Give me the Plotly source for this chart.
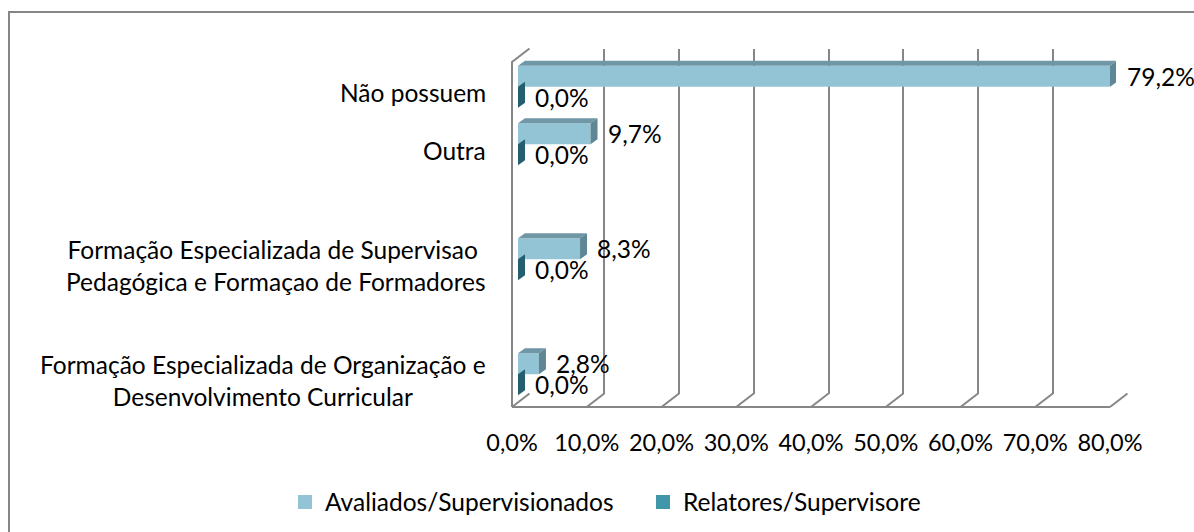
import plotly.graph_objects as go

# ---------------- data ----------------
categories = [
    "Formação Especializada de Organização e\nDesenvolvimento Curricular",
    "",
    "Formação Especializada de Supervisao \nPedagógica e Formaçao de Formadores",
    "",
    "Outra",
    "Não possuem",
]
avaliados = [2.8, None, 8.3, None, 9.7, 79.2]
relatores = [0.0, None, 0.0, None, 0.0, 0.0]
series_names = ["Avaliados/Supervisionados", "Relatores/Supervisore"]
x_ticks = [0, 10, 20, 30, 40, 50, 60, 70, 80]
x_tick_labels = ["0,0%", "10,0%", "20,0%", "30,0%", "40,0%", "50,0%", "60,0%", "70,0%", "80,0%"]

# ---------------- style / geometry ----------------
W, H = 1194, 532
FONT = "Lato, 'Open Sans', sans-serif"
FS = 24.5
TICK_FS = 23.5
GRID = "#868686"
FRONT_COL = ["#93C4D5", "#3F96A9"]
TOP_COL = ["#6F97A6", "#2F6F80"]
END_COL = ["#5E8694", "#255E6E"]
LEGEND_COL = ["#93C4D6", "#4097AA"]

FX0, FX1, FY0, FY1 = 512, 1110, 62, 407   # front plane of the 3D box (px)
WALL_DX, WALL_DY = 17.5, 13.5              # depth of the box (px)
BAR_DX, BAR_DY = 6, 4                      # where the bars' front face sits
BD_DX, BD_DY = 7, 5                        # depth of each bar (px)
BAR_PX = 21                                # thickness of each bar (px)
XMAX = x_ticks[-1]
N = len(categories)

def fx(px):
    return px / W

def fy(py):
    return 1 - py / H

ux = XMAX / (FX1 - FX0)   # value units per px
uy = N / (FY1 - FY0)      # slot units per px
hw = BAR_PX / 2 * uy

fig = go.Figure()

# ---------------- 3D box decorations (floor + left wall) ----------------
dxu, dyu = WALL_DX * ux, WALL_DY * uy
ybot, ytop = -0.5, N - 0.5
lx, ly = [0, XMAX, None], [ybot, ybot, None]
for t in x_ticks:
    lx += [t, t + dxu, None]
    ly += [ybot, ybot + dyu, None]
lx += [0, 0, dxu, None]
ly += [ybot, ytop, ytop + dyu, None]
fig.add_trace(go.Scatter(x=lx, y=ly, mode="lines", line=dict(color=GRID, width=2),
                         xaxis="x3", yaxis="y3", showlegend=False, hoverinfo="skip"))
# invisible trace so the back-wall subplot (with its gridlines) exists
fig.add_trace(go.Scatter(x=[0], y=[0], mode="markers", marker=dict(opacity=0),
                         xaxis="x2", yaxis="y2", showlegend=False, hoverinfo="skip"))

# ---------------- bars ----------------
def centers_for(sign):
    return [j + sign * hw for j in range(N)]

series = [avaliados, relatores]
signs = [1, -1]
bdx, bdy = BD_DX * ux, BD_DY * uy
annotations = []
for k, (vals, name) in enumerate(zip(series, series_names)):
    cs = centers_for(signs[k])
    xs = [v for v in vals if v is not None]
    ys = [c for v, c in zip(vals, cs) if v is not None]
    fig.add_trace(go.Bar(x=xs, y=ys, orientation="h", width=2 * hw, name=name,
                         marker=dict(color=FRONT_COL[k], line=dict(width=0)),
                         xaxis="x4", yaxis="y4", showlegend=False))
    tx, ty, ex, ey = [], [], [], []
    for v, c in zip(xs, ys):
        y0, y1 = c - hw, c + hw
        tx += [0, v, v + bdx, bdx, 0, None]
        ty += [y1, y1, y1 + bdy, y1 + bdy, y1, None]
        ex += [v, v + bdx, v + bdx, v, v, None]
        ey += [y0, y0 + bdy, y1 + bdy, y1, y0, None]
        annotations.append(dict(x=v, y=c, xref="x4", yref="y4", xanchor="left", yanchor="middle",
                                xshift=15, showarrow=False,
                                text=f"{v:.1f}".replace(".", ",") + "%",
                                font=dict(family=FONT, size=FS, color="black")))
    fig.add_trace(go.Scatter(x=tx, y=ty, mode="lines", fill="toself", fillcolor=TOP_COL[k],
                             line=dict(width=0), xaxis="x4", yaxis="y4",
                             showlegend=False, hoverinfo="skip"))
    fig.add_trace(go.Scatter(x=ex, y=ey, mode="lines", fill="toself", fillcolor=END_COL[k],
                             line=dict(width=0), xaxis="x4", yaxis="y4",
                             showlegend=False, hoverinfo="skip"))
    # legend entry (square swatch like the original)
    fig.add_trace(go.Scatter(x=[None], y=[None], mode="markers", name=name,
                             marker=dict(symbol="square", size=14, color=LEGEND_COL[k]),
                             xaxis="x4", yaxis="y4", showlegend=True))

# ---------------- category labels ----------------
for j, lab in enumerate(categories):
    if not lab:
        continue
    annotations.append(dict(x=0, y=j, xref="x", yref="y", xanchor="right", yanchor="middle",
                            xshift=-24, yshift=-2, showarrow=False, align="center",
                            text=lab.replace("\n", "<br>"),
                            font=dict(family=FONT, size=FS, color="black")))

fig.update_layout(
    template="none",
    width=W, height=H, autosize=False,
    margin=dict(l=0, r=0, t=0, b=0, pad=0, autoexpand=False),
    paper_bgcolor="white", plot_bgcolor="rgba(0,0,0,0)",
    font=dict(family=FONT, size=FS, color="black"),
    barmode="overlay",
    # front plane: tick labels
    xaxis=dict(domain=[fx(FX0), fx(FX1)], range=[0, XMAX], tickmode="array",
               tickvals=x_ticks, ticktext=x_tick_labels, showgrid=False, zeroline=False,
               showline=False, ticks="", ticklabelstandoff=19, automargin=False,
               tickfont=dict(family=FONT, size=TICK_FS, color="black"), anchor="y"),
    yaxis=dict(domain=[fy(FY1), fy(FY0)], range=[ybot, ytop], visible=False,
               automargin=False, anchor="x"),
    # back wall: gridlines
    xaxis2=dict(domain=[fx(FX0 + WALL_DX), fx(FX1 + WALL_DX)], range=[0, XMAX],
                tickmode="array", tickvals=x_ticks,
                showgrid=True, gridcolor=GRID, gridwidth=2, zeroline=False,
                showticklabels=False, showline=False, ticks="", automargin=False, anchor="y2"),
    yaxis2=dict(domain=[fy(FY1 - WALL_DY), fy(FY0 - WALL_DY)], range=[ybot, ytop],
                showgrid=False, zeroline=False, showticklabels=False, showline=False,
                ticks="", automargin=False, anchor="x2"),
    # decoration box
    xaxis3=dict(domain=[fx(500), fx(1140)], range=[(500 - FX0) * ux, (1140 - FX0) * ux],
                visible=False, automargin=False, anchor="y3"),
    yaxis3=dict(domain=[fy(415), fy(40)], range=[ybot + (FY1 - 415) * uy, ybot + (FY1 - 40) * uy],
                visible=False, automargin=False, anchor="x3"),
    # bars plane
    xaxis4=dict(domain=[fx(FX0 + BAR_DX), fx(FX1 + BAR_DX)], range=[0, XMAX],
                visible=False, automargin=False, anchor="y4"),
    yaxis4=dict(domain=[fy(FY1 - BAR_DY), fy(FY0 - BAR_DY)], range=[ybot, ytop],
                visible=False, automargin=False, anchor="x4"),
    legend=dict(orientation="h", x=fx(285), xanchor="left", y=fy(502), yanchor="middle",
                entrywidth=313, entrywidthmode="pixels",
                font=dict(family=FONT, size=FS, color="black"), bgcolor="rgba(0,0,0,0)"),
    annotations=annotations,
    shapes=[dict(type="rect", xref="paper", yref="paper", x0=fx(9), x1=1.05,
                 y0=-0.05, y1=fy(12), line=dict(color=GRID, width=2), layer="below")],
)

fig.write_html("out.html", config={"displayModeBar": False},
               post_script="document.body.style.margin='0';")
